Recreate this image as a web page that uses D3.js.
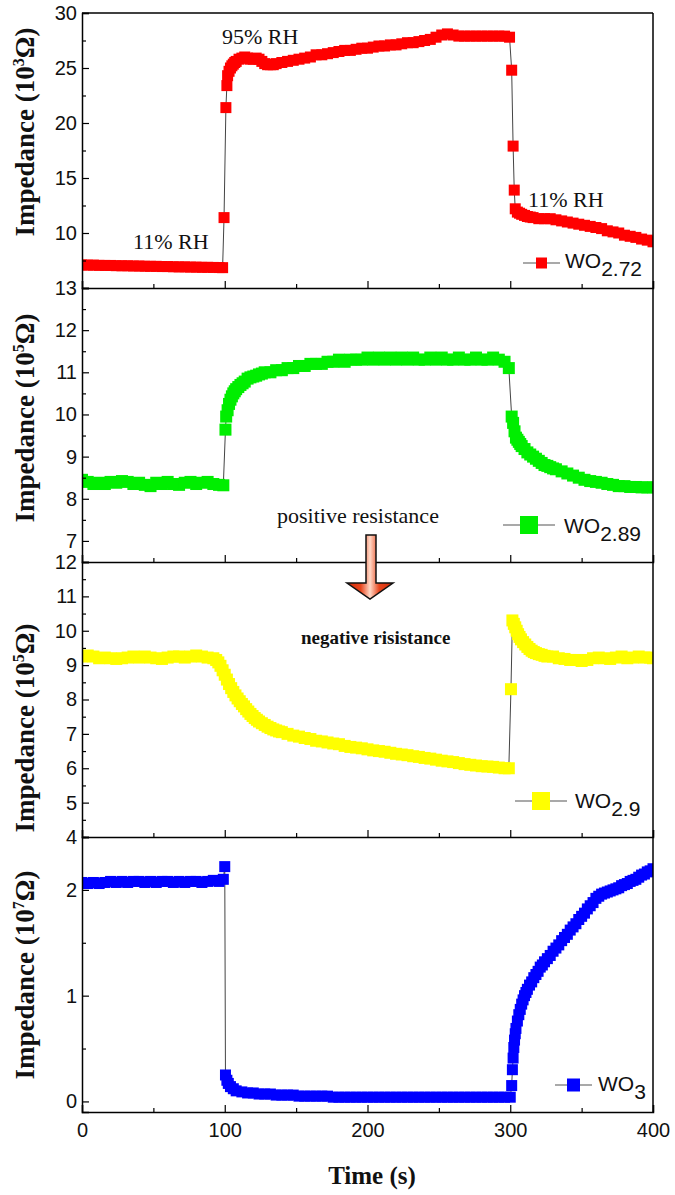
<!DOCTYPE html>
<html><head><meta charset="utf-8">
<script src="https://cdn.jsdelivr.net/npm/d3@7"></script>
<style>body{margin:0;background:#fff}svg{display:block}</style>
</head><body>
<svg id="c" width="675" height="1195"></svg>
<script>
// ---------- data (time in s, impedance in panel units) ----------
const timeTicks = [0, 100, 200, 300, 400];
const timeMinor = [50, 150, 250, 350];

const wo272 = [[0,7.10],[4,7.08],[8,7.08],[12,7.06],[16,7.05],[20,7.05],[24,7.03],[28,7.02],[32,7.02],[36,7.00],[40,7.00],[44,6.98],[48,6.97],[52,6.97],[56,6.95],[60,6.95],[64,6.93],[68,6.92],[72,6.92],[76,6.90],[80,6.90],[84,6.88],[88,6.88],[92,6.87],[96,6.86],[98.5,6.85],
[99.5,11.4],[100.8,21.4],[101.5,23.4],[102,24.3],[103,24.7],[104,25.0],[105,25.2],[106,25.35],[107,25.5],[108,25.6],[110,25.8],[112,25.9],[114,26.0],[116,25.9],[118,25.8],[120,25.8],[122,25.9],[124,25.8],[126,25.6],[128,25.4],[130,25.3],[132,25.3],[134,25.3],[136,25.4],[140,25.5],[144,25.6],[148,25.7],[152,25.8],[156,25.9],[160,26.0],[164,26.2],[168,26.2],[172,26.3],[176,26.4],[180,26.5],[184,26.6],[188,26.6],[192,26.7],[196,26.8],[200,26.8],[204,26.9],[208,27.0],[212,27.0],[216,27.1],[220,27.1],[224,27.2],[228,27.3],[232,27.3],[236,27.4],[240,27.5],[244,27.6],[248,27.8],[252,28.0],[256,28.1],[260,28.0],[264,27.9],[268,27.9],[272,27.9],[276,27.9],[280,27.9],[284,27.9],[288,27.9],[292,27.9],[296,27.9],[299.5,27.8],
[301,24.8],[302,17.9],[302.8,13.9],[303.5,12.2],[305,11.9],[306.5,11.8],[308,11.7],[310,11.6],[312,11.5],[314,11.45],[316,11.4],[320,11.3],[324,11.3],[328,11.3],[332,11.2],[336,11.1],[340,11.0],[344,10.9],[348,10.8],[352,10.7],[356,10.6],[360,10.5],[364,10.4],[368,10.2],[372,10.1],[376,10.0],[380,9.8],[384,9.7],[388,9.6],[392,9.45],[396,9.35],[400,9.2]];

const wo289 = [[0,8.45],[4,8.40],[8,8.35],[12,8.38],[16,8.35],[20,8.40],[24,8.38],[28,8.42],[32,8.40],[36,8.35],[40,8.38],[44,8.33],[48,8.30],[52,8.38],[56,8.35],[60,8.40],[64,8.35],[68,8.33],[72,8.38],[76,8.40],[80,8.35],[84,8.38],[88,8.40],[92,8.35],[96,8.33],[99,8.32],
[100.5,9.64],[101,9.95],[102,10.1],[103,10.25],[104,10.35],[105,10.43],[106,10.5],[107,10.55],[108,10.6],[109.5,10.65],[111,10.7],[112.5,10.74],[114,10.78],[116,10.85],[118,10.88],[120,10.9],[122,10.92],[124,10.95],[126,10.97],[128,11.0],[132,11.0],[136,11.05],[140,11.05],[144,11.1],[148,11.1],[152,11.15],[156,11.15],[160,11.2],[164,11.2],[168,11.2],[172,11.25],[176,11.25],[180,11.3],[184,11.25],[188,11.3],[192,11.3],[196,11.3],[200,11.35],[204,11.3],[208,11.35],[212,11.3],[216,11.35],[220,11.3],[224,11.35],[228,11.3],[232,11.35],[236,11.3],[240,11.3],[244,11.35],[248,11.3],[252,11.35],[256,11.3],[260,11.3],[264,11.35],[268,11.3],[272,11.3],[276,11.35],[280,11.3],[284,11.3],[288,11.35],[292,11.3],[296,11.25],[299,11.1],
[301,9.95],[302,9.8],[303,9.6],[304,9.45],[305,9.4],[306,9.35],[307,9.3],[308,9.25],[310,9.18],[312,9.1],[314,9.05],[316,9.0],[318,8.95],[320,8.9],[322,8.85],[324,8.8],[326,8.78],[328,8.75],[330,8.72],[332,8.7],[336,8.65],[340,8.6],[344,8.55],[348,8.5],[352,8.45],[356,8.42],[360,8.4],[364,8.38],[368,8.35],[372,8.33],[376,8.3],[380,8.3],[384,8.28],[388,8.28],[392,8.27],[396,8.27],[400,8.27]];

const wo29 = [[0,9.25],[4,9.28],[8,9.25],[12,9.2],[16,9.22],[20,9.2],[24,9.18],[28,9.2],[32,9.22],[36,9.25],[40,9.22],[44,9.25],[48,9.22],[52,9.2],[56,9.18],[60,9.22],[64,9.25],[68,9.25],[72,9.22],[76,9.25],[80,9.28],[84,9.25],[88,9.22],[92,9.2],[94,9.15],[95.5,9.08],[97,8.98],[98.5,8.85],[100,8.72],[101.5,8.58],[103,8.45],[104.5,8.33],[106,8.22],[107.5,8.12],[109,8.03],[110.5,7.95],[112,7.87],[113.5,7.8],[115,7.72],[116.5,7.65],[118,7.58],[119.5,7.52],[121,7.46],[122.5,7.41],[124,7.36],[126,7.31],[128,7.26],[130,7.21],[132,7.17],[134,7.13],[136,7.1],[138,7.07],[140,7.05],[144,7.0],[148,6.95],[152,6.92],[156,6.88],[160,6.85],[164,6.8],[168,6.78],[172,6.75],[176,6.72],[180,6.7],[184,6.65],[188,6.62],[192,6.6],[196,6.58],[200,6.55],[204,6.52],[208,6.5],[212,6.48],[216,6.45],[220,6.42],[224,6.4],[228,6.38],[232,6.35],[236,6.33],[240,6.3],[244,6.28],[248,6.25],[252,6.22],[256,6.2],[260,6.18],[264,6.15],[268,6.12],[272,6.1],[276,6.08],[280,6.06],[284,6.05],[288,6.04],[292,6.02],[296,6.0],[299,6.0],
[300.5,8.3],[301.5,10.3],[302.5,10.2],[303.5,10.1],[304.5,10.0],[305.5,9.9],[306.5,9.82],[307.5,9.75],[309,9.67],[310.5,9.6],[312,9.53],[313.5,9.47],[315,9.42],[316.5,9.38],[318,9.35],[320,9.32],[322,9.3],[324,9.27],[326,9.25],[330,9.25],[334,9.2],[338,9.18],[342,9.15],[346,9.15],[350,9.12],[354,9.15],[358,9.2],[362,9.22],[366,9.2],[370,9.18],[374,9.22],[378,9.25],[382,9.2],[386,9.22],[390,9.25],[394,9.22],[398,9.22],[400,9.2]];

const wo3 = [[0,2.07],[4,2.06],[8,2.07],[12,2.06],[16,2.07],[20,2.08],[24,2.07],[28,2.08],[32,2.07],[36,2.08],[40,2.08],[44,2.07],[48,2.08],[52,2.07],[56,2.08],[60,2.08],[64,2.07],[68,2.08],[72,2.07],[76,2.08],[80,2.08],[84,2.07],[88,2.08],[92,2.09],[96,2.08],[99,2.1],[100,2.22],
[100.5,0.25],[101.5,0.2],[102.5,0.17],[104,0.14],[106,0.12],[108,0.1],[112,0.09],[116,0.08],[120,0.08],[124,0.07],[128,0.07],[132,0.07],[136,0.06],[140,0.06],[144,0.06],[148,0.06],[152,0.05],[156,0.05],[160,0.05],[164,0.05],[168,0.05],[172,0.05],[176,0.04],[180,0.04],[184,0.04],[188,0.04],[192,0.04],[196,0.04],[200,0.04],[204,0.04],[208,0.04],[212,0.04],[216,0.04],[220,0.04],[224,0.04],[228,0.04],[232,0.04],[236,0.04],[240,0.04],[244,0.04],[248,0.04],[252,0.04],[256,0.04],[260,0.04],[264,0.04],[268,0.04],[272,0.04],[276,0.04],[280,0.04],[284,0.04],[288,0.04],[292,0.04],[296,0.04],[300,0.04],
[301,0.15],[301.5,0.3],[302,0.41],[302.5,0.51],[303,0.58],[303.5,0.64],[304,0.69],[305,0.76],[306,0.82],[307,0.87],[308,0.92],[309,0.96],[310,1.0],[311,1.03],[312,1.06],[313.5,1.1],[315,1.13],[316.5,1.17],[318,1.2],[319.5,1.23],[321,1.27],[322.5,1.29],[324,1.32],[326,1.35],[328,1.38],[330,1.42],[332,1.45],[334,1.48],[336,1.52],[338,1.55],[340,1.58],[342,1.62],[344,1.65],[346,1.68],[348,1.72],[350,1.75],[352,1.78],[354,1.82],[356,1.85],[358,1.88],[360,1.92],[362,1.94],[364,1.96],[366,1.97],[368,1.98],[370,1.99],[372,2.0],[374,2.01],[376,2.02],[378,2.04],[380,2.05],[382,2.06],[384,2.08],[386,2.09],[388,2.1],[390,2.12],[392,2.14],[394,2.15],[396,2.17],[398,2.18],[400,2.2]];

const seriesNames = ["2.72", "2.89", "2.9", "3"];
const seriesColors = ["#ff0000", "#00ee00", "#ffff00", "#0000ff"];
const seriesData = [wo272, wo289, wo29, wo3];
const yDomains = [[5, 30], [6.5, 13], [4, 12], [-0.1, 2.5]];
const yMajor = [[10, 15, 20, 25, 30], [7, 8, 9, 10, 11, 12, 13], [4, 5, 6, 7, 8, 9, 10, 11, 12], [0, 1, 2]];
const yMinor = [[7.5, 12.5, 17.5, 22.5, 27.5], [7.5, 8.5, 9.5, 10.5, 11.5, 12.5], [4.5, 5.5, 6.5, 7.5, 8.5, 9.5, 10.5, 11.5], [0.5, 1.5, 2.5]];
const yExponents = ["3", "5", "5", "7"];

// ---------- layout ----------
const svg = d3.select("#c");
const L = 82, R = 653;
const bands = [[13, 288], [288, 562], [562, 837], [837, 1112]];
const markerSize = [11, 12, 12, 11];
const legendPos = [
  {x1: 523, x2: 560, y: 263, sq: 11, tx: 565, ty: 268},
  {x1: 503, x2: 555, y: 525, sq: 18, tx: 564, ty: 533},
  {x1: 515, x2: 567, y: 801, sq: 18, tx: 575, ty: 808},
  {x1: 555, x2: 592, y: 1085, sq: 13, tx: 598, ty: 1091}
];
const labelCY = [132, 418, 728, 975];

const x = d3.scaleLinear().domain([0, 400]).range([L, R]);
const sansFont = "'Liberation Sans', Arial, sans-serif";
const serifFont = "'Liberation Serif', 'Times New Roman', serif";

const defs = svg.append("defs");
bands.forEach((b, i) => {
  defs.append("clipPath").attr("id", "clip" + i)
    .append("rect").attr("x", L).attr("y", b[0]).attr("width", R - L).attr("height", b[1] - b[0]);
});

seriesData.forEach((data, i) => {
  const [top, bot] = bands[i];
  const y = d3.scaleLinear().domain(yDomains[i]).range([bot, top]);
  const g = svg.append("g");

  // data
  const dg = g.append("g").attr("clip-path", `url(#clip${i})`);
  const line = d3.line().x(d => x(d[0])).y(d => y(d[1]));
  dg.append("path").datum(data).attr("d", line).attr("fill", "none")
    .attr("stroke", "#444").attr("stroke-width", 1);
  const s = markerSize[i];
  dg.selectAll("rect").data(data).join("rect")
    .attr("x", d => x(d[0]) - s / 2).attr("y", d => y(d[1]) - s / 2)
    .attr("width", s).attr("height", s).attr("fill", seriesColors[i]);

  // x axes (ticks inward)
  g.append("g").attr("transform", `translate(0,${bot})`)
    .call(d3.axisBottom(x).tickValues(timeTicks).tickSize(-7).tickPadding(11).tickFormat(i === 3 ? d3.format("d") : ""));
  g.append("g").attr("transform", `translate(0,${bot})`)
    .call(d3.axisBottom(x).tickValues(timeMinor).tickSize(-4).tickFormat(""))
    .select(".domain").remove();

  // y axes
  g.append("g").attr("transform", `translate(${L},0)`)
    .call(d3.axisLeft(y).tickValues(yMajor[i]).tickSize(-7).tickPadding(5).tickFormat(d3.format("d")));
  g.append("g").attr("transform", `translate(${L},0)`)
    .call(d3.axisLeft(y).tickValues(yMinor[i]).tickSize(-4).tickFormat(""))
    .select(".domain").remove();

  // right border and top border
  g.append("line").attr("x1", R).attr("x2", R).attr("y1", top).attr("y2", bot).attr("stroke", "#000").attr("stroke-width", 1.5);
  if (i === 0) g.append("line").attr("x1", L).attr("x2", R).attr("y1", top).attr("y2", top).attr("stroke", "#000").attr("stroke-width", 1.5);

  g.selectAll(".domain").attr("stroke-width", 1.5);
  g.selectAll(".tick line").attr("stroke-width", 1.2);
  g.selectAll(".tick text").attr("font-family", sansFont).attr("font-size", 20).attr("fill", "#111");

  // y label
  const yl = svg.append("text")
    .attr("transform", `translate(34,${labelCY[i]}) rotate(-90)`)
    .attr("text-anchor", "middle").attr("font-family", serifFont).attr("font-weight", "bold")
    .attr("font-size", 27).attr("fill", "#111");
  yl.append("tspan").text("Impedance (10");
  yl.append("tspan").attr("dy", -10).attr("font-size", 16).text(yExponents[i]);
  yl.append("tspan").attr("dy", 10).text("Ω)");

  // legend
  const lp = legendPos[i];
  svg.append("line").attr("x1", lp.x1).attr("x2", lp.x2).attr("y1", lp.y).attr("y2", lp.y)
    .attr("stroke", "#555").attr("stroke-width", 1.2);
  svg.append("rect").attr("x", (lp.x1 + lp.x2) / 2 - lp.sq / 2).attr("y", lp.y - lp.sq / 2)
    .attr("width", lp.sq).attr("height", lp.sq).attr("fill", seriesColors[i]);
  const lt = svg.append("text").attr("x", lp.tx).attr("y", lp.ty)
    .attr("font-family", sansFont).attr("font-size", 21).attr("fill", "#111");
  lt.append("tspan").text("WO");
  lt.append("tspan").attr("dy", 8).attr("font-size", 21).text(seriesNames[i]);
});

// x label
svg.append("text").attr("x", 372).attr("y", 1184).attr("text-anchor", "middle")
  .attr("font-family", serifFont).attr("font-weight", "bold").attr("font-size", 25).attr("fill", "#111")
  .text("Time (s)");

// annotations
const ann = [
  {t: "11% RH", x: 133, y: 249, w: "normal", s: 22},
  {t: "95% RH", x: 222, y: 44, w: "normal", s: 22},
  {t: "11% RH", x: 528, y: 207, w: "normal", s: 22},
  {t: "positive resistance", x: 277, y: 523, w: "normal", s: 22},
  {t: "negative risistance", x: 301, y: 644, w: "bold", s: 19}
];
ann.forEach(a => svg.append("text").attr("x", a.x).attr("y", a.y)
  .attr("font-family", serifFont).attr("font-weight", a.w).attr("font-size", a.s).attr("fill", "#111").text(a.t));

// arrow
const grad = defs.append("linearGradient").attr("id", "ag").attr("x1", "0").attr("x2", "1").attr("y1", "0").attr("y2", "0");
[[0, "#d42a08"], [0.3, "#e8461e"], [0.5, "#ffd8c6"], [0.7, "#e8461e"], [1, "#d42a08"]]
  .forEach(([o, c]) => grad.append("stop").attr("offset", o).attr("stop-color", c));
svg.append("path")
  .attr("d", "M366,535 L376,535 L376,583 L393,583 L370,599 L347,583 L366,583 Z")
  .attr("fill", "url(#ag)").attr("stroke", "#111").attr("stroke-width", 1.5);
</script>
</body></html>
